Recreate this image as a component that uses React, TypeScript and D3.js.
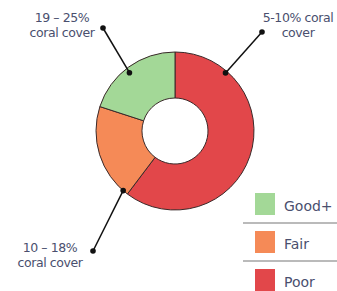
import React from "react";
import * as d3 from "d3";

const categories = ["Poor", "Fair", "Good+"];
const values = [60.3, 19.7, 20];
const colors = ["#E2474A", "#F58A57", "#A3D897"];
const legendOrder = ["Good+", "Fair", "Poor"];

const annotationLines = [
  ["19 – 25%", "coral cover"],
  ["5-10% coral", "cover"],
  ["10 – 18%", "coral cover"],
];
// angle (deg, clockwise from top) of the anchor on the ring
const annotationAngles = [322, 41, 221];

const W = 337;
const H = 291;
const cx = 175;
const cy = 131;
const R = 79;
const r = 33;

export default function App() {
  const pie = d3.pie<number>().sort(null).value((d) => d);
  const arcs = pie(values);
  const arc = d3.arc<d3.PieArcDatum<number>>().innerRadius(r).outerRadius(R);

  const toXY = (deg: number, rad: number) => {
    const a = (deg * Math.PI) / 180;
    return [cx + rad * Math.sin(a), cy - rad * Math.cos(a)];
  };

  const textPos = [
    { x: 62, y: 22, dot: [103, 28] },
    { x: 298, y: 22, dot: [262, 32] },
    { x: 50, y: 252, dot: [93, 251] },
  ];
  const anchorR = [74, 77, 79];

  const textColor = "#4A4F6E";
  const font = "'DejaVu Sans', sans-serif";

  const legendY = d3.scaleBand().domain(legendOrder).range([186, 300]).paddingInner(0);

  return (
    <svg
      width={W}
      height={H}
      style={{ position: "absolute", left: 0, top: 0, background: "#fff" }}
    >
      <g transform={`translate(${cx},${cy})`}>
        {arcs.map((a, i) => (
          <path key={i} d={arc(a) || ""} fill={colors[i]} stroke="#3a2a2a" strokeWidth={1} />
        ))}
      </g>
      {annotationLines.map((lines, i) => {
        const [ax, ay] = toXY(annotationAngles[i], anchorR[i]);
        const t = textPos[i];
        return (
          <g key={i}>
            <line x1={ax} y1={ay} x2={t.dot[0]} y2={t.dot[1]} stroke="#111" strokeWidth={1.5} />
            <circle cx={ax} cy={ay} r={2.8} fill="#111" />
            <circle cx={t.dot[0]} cy={t.dot[1]} r={2.8} fill="#111" />
            {lines.map((l, j) => (
              <text
                key={j}
                x={t.x}
                y={t.y + j * 15}
                textAnchor="middle"
                fontFamily={font}
                fontSize={12.5}
                fill={textColor}
                letterSpacing={-0.4}
              >
                {l}
              </text>
            ))}
          </g>
        );
      })}
      {legendOrder.map((c, i) => {
        const y0 = legendY(c)!;
        const idx = categories.indexOf(c);
        return (
          <g key={c}>
            {i > 0 && (
              <line x1={243} x2={337} y1={y0 - 1} y2={y0 - 1} stroke="#777" strokeWidth={1.2} />
            )}
            <rect x={255} y={y0 + 7} width={20} height={22} fill={colors[idx]} />
            <text x={284} y={y0 + 25} fontFamily={font} fontSize={14} fill={textColor}>
              {c}
            </text>
          </g>
        );
      })}
    </svg>
  );
}
